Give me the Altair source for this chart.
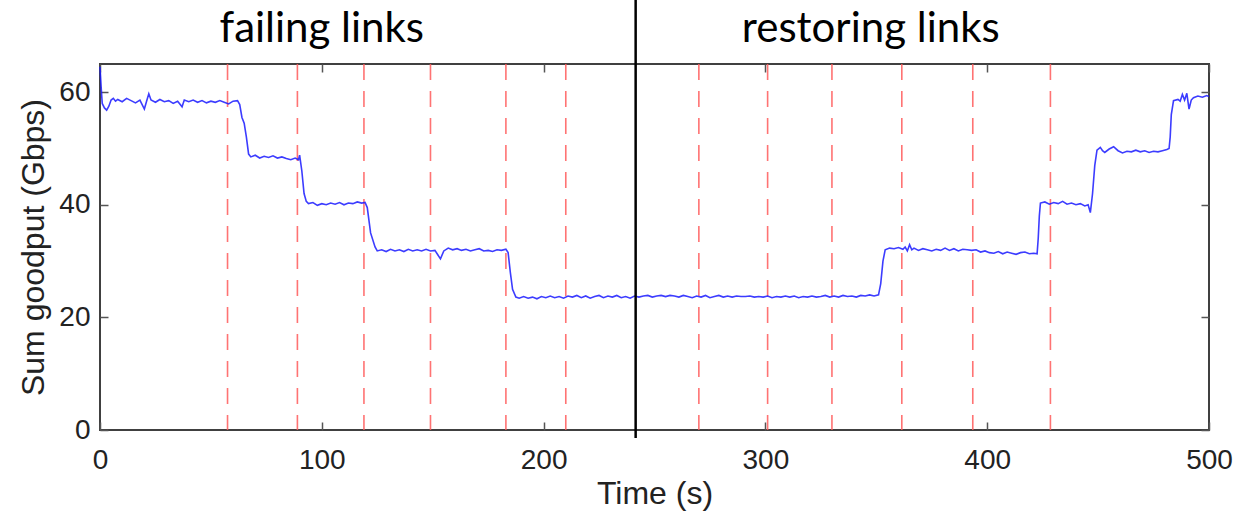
import altair as alt
import pandas as pd

# ---- data ----
time_s = [0, 0.5, 1, 2, 3, 4, 5, 6, 7, 8, 10, 12, 14, 16, 18, 20, 21, 22, 23, 25, 27, 29, 31, 33, 35, 37, 38,
          40, 42, 44, 46, 48, 50, 52, 54, 56, 58, 60, 62, 63, 64, 65, 66, 67, 68, 70, 72, 74, 76, 78, 80, 82,
          84, 86, 88, 89.5, 90, 91, 92, 93, 94, 96, 98, 100, 102, 104, 106, 108, 110, 112, 114, 116, 118,
          119.5, 120.5, 122, 124, 125, 127, 129, 131, 133, 135, 137, 139, 141, 143, 145, 147, 149, 151, 152,
          153.5, 155, 157, 159, 161, 163, 165, 167, 169, 171, 173, 175, 177, 179, 181, 183, 184, 185, 186,
          187.5, 189, 191, 193, 195, 197, 199, 201, 203, 205, 207, 209, 211, 213, 215, 217, 219, 221, 223,
          225, 227, 229, 231, 233, 235, 237, 239, 241, 243, 245, 247, 249, 251, 253, 255, 257, 259, 261, 263,
          265, 267, 269, 271, 273, 275, 277, 279, 281, 283, 285, 287, 289, 291, 293, 295, 297, 299, 301, 303,
          305, 307, 309, 311, 313, 315, 317, 319, 321, 323, 325, 327, 329, 331, 333, 335, 337, 339, 341, 343,
          345, 347, 349, 351, 352, 353, 354, 356, 358, 360, 362, 363, 364, 365, 366, 367, 369, 371, 373, 375,
          377, 379, 381, 383, 385, 387, 389, 391, 393, 395, 397, 399, 401, 403, 405, 407, 409, 411, 413, 415,
          417, 419, 421, 422.5, 423, 423.5, 424, 426, 428, 430, 432, 434, 436, 438, 440, 442, 444, 445.5,
          446.5, 447.5, 448.5, 449.5, 451, 452, 453, 455, 457, 459, 461, 463, 465, 467, 469, 471, 473, 475,
          477, 479, 481, 482, 482.5, 483, 484, 486, 487, 488, 489, 490, 491, 492, 493, 495, 497, 499, 500]

goodput = [64.5, 61, 58, 57.2, 56.8, 57.5, 58.6, 58.9, 58.4, 58.7, 58.3, 58.9, 58.5, 58.1, 58.6, 57.0, 58.4,
           59.7, 58.6, 58.2, 58.7, 58.3, 58.5, 58.0, 58.4, 57.4, 58.6, 58.3, 58.6, 58.2, 58.5, 58.1, 58.4,
           58.2, 58.5, 58.2, 57.9, 58.4, 58.5, 57.8, 55.5, 54.5, 52, 49, 48.5, 48.8, 48.3, 48.6, 48.4, 48.7,
           48.3, 48.5, 48.2, 48.0, 48.3, 48.0, 48.8, 46, 42, 40.6, 40.2, 40.4, 39.9, 40.2, 40.0, 40.3, 40.1,
           40.4, 40.0, 40.3, 40.2, 40.5, 40.3, 40.4, 39.5, 35, 32.5, 31.8, 32.0, 31.7, 32.1, 31.8, 32.0, 31.7,
           32.1, 31.8, 32.0, 31.8, 32.1, 31.8, 31.9, 31.3, 30.4, 31.8, 32.3, 32.0, 32.2, 31.9, 32.1, 31.8,
           32.0, 32.2, 31.8, 31.9, 31.7, 32.0, 31.9, 32.1, 31.5, 28, 25, 23.6, 23.4, 23.7, 23.4, 23.6, 23.3,
           23.7, 23.5, 23.8, 23.5, 23.7, 23.4, 23.8, 23.6, 23.9, 23.5, 23.8, 23.4, 23.7, 23.9, 23.5, 23.8,
           23.6, 23.9, 23.5, 23.7, 23.4, 23.8, 23.6, 23.8, 23.9, 23.6, 23.8, 23.9, 23.7, 23.9, 23.8, 23.6,
           23.9, 23.7, 23.5, 23.8, 23.6, 23.9, 23.5, 23.7, 23.9, 23.6, 23.8, 23.6, 23.8, 23.7, 23.7, 23.8,
           23.6, 23.7, 23.6, 23.8, 23.5, 23.7, 23.6, 23.8, 23.6, 23.8, 23.5, 23.7, 23.6, 23.8, 23.6, 23.7,
           23.9, 23.6, 23.8, 23.6, 23.9, 23.7, 23.8, 23.6, 23.9, 23.8, 24.0, 23.8, 24.0, 26, 30, 32.0, 32.3,
           32.2, 32.4, 32.1, 32.5, 31.8, 32.9, 32.0, 32.3, 31.9, 32.2, 32.0, 31.8, 32.1, 31.9, 32.3, 31.9,
           32.2, 31.8, 32.1, 32.0, 31.9, 32.0, 31.6, 31.8, 31.5, 31.4, 31.7, 31.3, 31.6, 31.4, 31.2, 31.5,
           31.6, 31.3, 31.4, 31.3, 34, 38, 40.3, 40.5, 40.1, 40.4, 40.2, 40.6, 40.1, 40.3, 40.0, 40.2, 39.8,
           40.0, 38.6, 42, 47, 49.7, 50.2, 49.6, 49.3, 49.9, 50.3, 49.6, 49.2, 49.5, 49.4, 49.7, 49.4, 49.6,
           49.3, 49.5, 49.4, 49.6, 49.8, 50.0, 52, 56, 58.5, 58.7, 58.4, 59.6, 58.6, 59.8, 57.0, 58.6, 59.0,
           59.3, 59.1, 59.4, 59.2]

event_times = [57.5, 89, 119, 149, 183, 210, 270, 301, 330, 361.5, 393.5, 428.5]
split_time = [241.5]
phase_labels = ["failing links", "restoring links"]
phase_label_x = [100, 347.5]
phase_label_y = [71.3, 71.3]
x_ticks = [0, 100, 200, 300, 400, 500]
y_ticks = [0, 20, 40, 60]

W, H = 1109, 366

df = pd.DataFrame({"t": time_s, "g": goodput})
ev = pd.DataFrame({"t": event_times})
sp = pd.DataFrame({"t": split_time, "y1": [76.5], "y2": [-1.4]})
lab = pd.DataFrame({"t": phase_label_x, "y": phase_label_y, "label": phase_labels})

xs = alt.Scale(domain=[0, 500], nice=False, zero=False)
ys = alt.Scale(domain=[0, 65], nice=False, zero=False)

tick_style = dict(tickColor="#555555", tickWidth=1.5, tickSize=8, grid=False, domain=False)

# main axes (labels + titles)
main = alt.Chart(df).mark_line(color="#1a1aff", strokeWidth=1.6, opacity=0.85).encode(
    x=alt.X("t:Q", scale=xs, axis=alt.Axis(values=x_ticks, orient="bottom", title="Time (s)",
                                            ticks=False, domain=False, grid=False, labelPadding=16,
                                            labelFlush=False, titlePadding=4)),
    y=alt.Y("g:Q", scale=ys, axis=alt.Axis(values=y_ticks, orient="left", title="Sum goodput (Gbps)",
                                            ticks=False, domain=False, grid=False, labelPadding=10,
                                            labelFlush=False, titlePadding=8)),
)

# inward ticks: bottom edge and left edge
ticks_a = alt.Chart(df).mark_line(opacity=0).encode(
    x=alt.X("t:Q", scale=xs, axis=alt.Axis(values=x_ticks, orient="top", offset=-H, labels=False,
                                            title=None, **tick_style)),
    y=alt.Y("g:Q", scale=ys, axis=alt.Axis(values=y_ticks, orient="right", offset=-W, labels=False,
                                            title=None, **tick_style)),
)
# inward ticks: top edge and right edge
ticks_b = alt.Chart(df).mark_line(opacity=0).encode(
    x=alt.X("t:Q", scale=xs, axis=alt.Axis(values=x_ticks, orient="bottom", offset=-H, labels=False,
                                            title=None, **tick_style)),
    y=alt.Y("g:Q", scale=ys, axis=alt.Axis(values=y_ticks, orient="left", offset=-W, labels=False,
                                            title=None, **tick_style)),
)

events = alt.Chart(ev).mark_rule(color="#ff5a5a", strokeWidth=1.6, strokeDash=[16, 11], opacity=0.85).encode(
    x=alt.X("t:Q", scale=xs, axis=None)
)

split = alt.Chart(sp).mark_rule(color="black", strokeWidth=2.5, clip=False).encode(
    x=alt.X("t:Q", scale=xs, axis=None), y=alt.Y("y1:Q", scale=ys, axis=None), y2="y2:Q"
)

labels = alt.Chart(lab).mark_text(font="Lato", fontSize=42, color="black", baseline="middle").encode(
    x=alt.X("t:Q", scale=xs, axis=None), y=alt.Y("y:Q", scale=ys, axis=None), text="label:N"
)

chart = alt.layer(events, main, ticks_a, ticks_b, split, labels).resolve_axis(
    x="independent", y="independent"
).properties(
    width=W, height=H, autosize="none",
    padding={"left": 100, "top": 64, "right": 33, "bottom": 85},
).configure_view(
    stroke="#404040", strokeWidth=2
).configure_axis(
    labelFont="Liberation Sans", titleFont="Liberation Sans", labelFontSize=28, titleFontSize=32,
    labelColor="#222222", titleColor="#222222", titleFontWeight="normal"
)

chart.save("out.html", embed_options={"renderer": "svg", "actions": False})
